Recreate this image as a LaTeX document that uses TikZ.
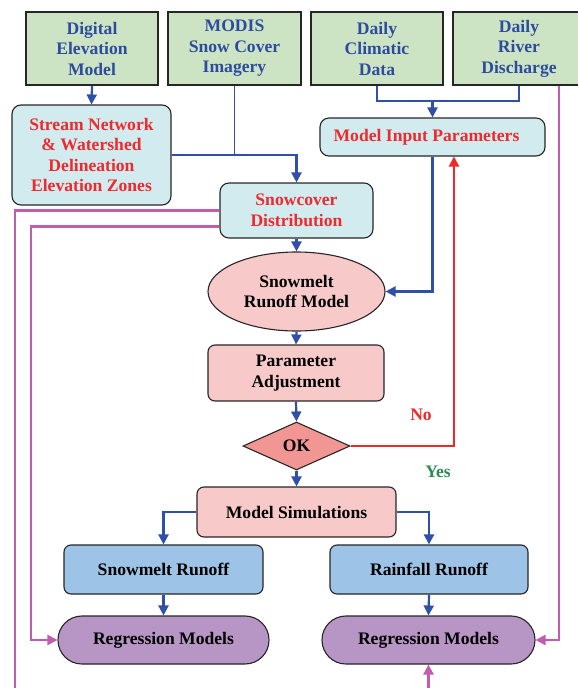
\documentclass[tikz,border=0pt]{standalone}
\usepackage{fontspec}
\setmainfont{Liberation Serif}
\usetikzlibrary{arrows.meta,shapes.geometric}
\definecolor{gfill}{HTML}{CCE4C3}
\definecolor{btext}{HTML}{2E4C9E}
\definecolor{cfill}{HTML}{D2EBEF}
\definecolor{rtext}{HTML}{EE2A2E}
\definecolor{pfill}{HTML}{F8C9C9}
\definecolor{dfill}{HTML}{F29694}
\definecolor{bfill}{HTML}{9DC3E6}
\definecolor{vfill}{HTML}{B795C5}
\definecolor{magl}{HTML}{C35BB0}
\definecolor{bline}{HTML}{2F4FA8}
\definecolor{redl}{HTML}{F02828}
\definecolor{ygreen}{HTML}{2E8B57}
\tikzset{
  base/.style={draw=black!85, line width=1.1pt, align=center, inner sep=0pt,
    font=\bfseries\fontsize{17.6}{20.5}\selectfont},
  srcbox/.style={base, fill=gfill, text=btext},
  cyanbox/.style={base, fill=cfill, text=rtext, rounded corners=9pt},
  pinkbox/.style={base, fill=pfill, text=black, rounded corners=7pt},
  bluebox/.style={base, fill=bfill, text=black, rounded corners=7pt},
  regbox/.style={base, fill=vfill, text=black, rounded corners=23.9pt},
  barrow/.style={draw=bline, line width=2.2pt, -{Triangle[length=10pt,width=10pt]}},
  bline/.style={draw=bline, line width=2.2pt},
  rarrow/.style={draw=redl, line width=2.2pt, -{Triangle[length=10pt,width=10pt]}},
  marrow/.style={draw=magl, line width=2.4pt, -{Triangle[length=10pt,width=10pt]}},
  lbl/.style={font=\bfseries\fontsize{17.6}{20.5}\selectfont}
}
\begin{document}
\begin{tikzpicture}[x=1pt,y=-1pt]
\clip (0,0) rectangle (578,688);
\fill[white] (0,0) rectangle (578,688);
% top sources
\node[srcbox, minimum width=132pt, minimum height=73pt] (dem) at (92,48.5) {Digital\\Elevation\\Model};
\node[srcbox, minimum width=133pt, minimum height=73pt] (modis) at (234.5,48.5) {MODIS\\Snow Cover\\Imagery};
\node[srcbox, minimum width=132pt, minimum height=73pt] (clim) at (377,48.5) {Daily\\Climatic\\Data};
\node[srcbox, minimum width=132pt, minimum height=73pt] (river) at (519,48.5) {Daily\\River\\Discharge};
% second row
\node[cyanbox, minimum width=159pt, minimum height=100pt] (stream) at (91.5,155) {Stream Network\\\& Watershed\\Delineation\\Elevation Zones};
\node[cyanbox, minimum width=225pt, minimum height=38pt] (mip) at (432.5,137) {\hspace*{-12pt}Model Input Parameters};
\node[cyanbox, minimum width=153pt, minimum height=55pt] (snow) at (296.5,210.5) {Snowcover\\Distribution};
% model chain
\node[base, ellipse, fill=pfill, minimum width=177pt, minimum height=79pt] (smr) at (296.5,291.5) {Snowmelt\\Runoff Model};
\node[pinkbox, minimum width=176pt, minimum height=56pt] (pa) at (296,373) {Parameter\\Adjustment};
\node[base, diamond, fill=dfill, minimum width=107pt, minimum height=48pt, shape aspect=2.2] (ok) at (296.5,446) {OK};
\node[pinkbox, minimum width=199pt, minimum height=50pt] (ms) at (296.5,512) {Model Simulations};
\node[bluebox, minimum width=199pt, minimum height=49pt] (sr) at (163.5,569.5) {Snowmelt Runoff};
\node[bluebox, minimum width=198pt, minimum height=49pt] (rr) at (429,569.5) {Rainfall Runoff};
\node[regbox, minimum width=211pt, minimum height=48pt] (rm1) at (163.5,640) {Regression Models};
\node[regbox, minimum width=213pt, minimum height=48pt] (rm2) at (428.5,640) {Regression Models};
% labels
\node[lbl, text=redl] (no) at (421,415) {No};
\node[lbl, text=ygreen] (yes) at (438,472) {Yes};
% coordinates
\coordinate (cj) at (432.5,101);
\coordinate (lin) at (31,640);
\coordinate (lout) at (15,720);
% connectors
\draw[barrow] (dem.south) -- (stream.north);
\draw[draw=bline, line width=1.2pt] (modis.south) -- (modis.south |- stream.east);
\draw[barrow] (stream.east) -| (snow.north);
\draw[bline] (clim.south) -- (clim.south |- cj) -- (river.south |- cj) -- (river.south);
\draw[barrow] (cj) -- (mip.north);
\draw[barrow] (mip.south) |- (smr.east);
\draw[barrow] (snow.south) -- (smr.north);
\draw[barrow] (smr.south) -- (pa.north);
\draw[barrow] (pa.south) -- (ok.north);
\draw[rarrow] (ok.east) -| ([xshift=21.5pt]mip.south);
\draw[barrow] (ok.south) -- (ms.north);
\draw[barrow] (ms.west) -| (sr.north);
\draw[barrow] (ms.east) -| (rr.north);
\draw[barrow] (sr.south) -- (rm1.north);
\draw[barrow] (rr.south) -- (rm2.north);
\draw[marrow] ([yshift=-16pt]snow.west) -| (lin) -- (rm1.west);
\draw[marrow] (snow.west) -| (lout) -| (rm2.south);
\draw[marrow] ([xshift=40pt]river.south) |- (rm2.east);
\end{tikzpicture}
\end{document}
